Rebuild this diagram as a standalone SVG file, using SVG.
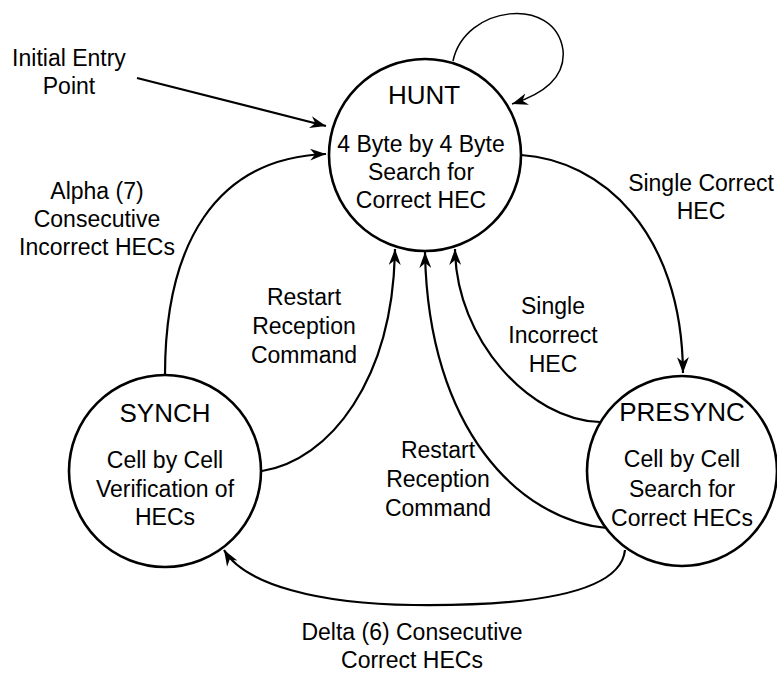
<svg xmlns="http://www.w3.org/2000/svg" width="777" height="673" viewBox="0 0 777 673">
<style>
text{font-family:"Liberation Sans",Arial,Helvetica,sans-serif;fill:#000;text-anchor:middle}
.t{font-size:26px}
.b{font-size:23px}
.node{fill:#fff;stroke:#000;stroke-width:2.6}
.c{fill:none;stroke:#000;stroke-width:2.2}
.thin{fill:none;stroke:#000;stroke-width:1.5}
</style>
<defs>
<marker id="ah" markerUnits="userSpaceOnUse" markerWidth="18" markerHeight="12" refX="16" refY="6" orient="auto">
<path d="M0,0 L16,6 L0,12 L5,6 z" fill="#000"/>
</marker>
</defs>
<g id="connectors">
<path class="c" d="M137,78 L326,126" marker-end="url(#ah)"/>
<path class="thin" d="M453,61 C465,5 555,-5 563,50 C566,80 540,95 512,104" marker-end="url(#ah)"/>
<path class="c" d="M165,375 C165,245 215,158 326,154" marker-end="url(#ah)"/>
<path class="c" d="M521,155 C600,160 682,230 683,373" marker-end="url(#ah)"/>
<path class="c" d="M600,422 C530,420 456,340 455,249" marker-end="url(#ah)"/>
<path class="c" d="M607,528 C520,520 428,430 425,252" marker-end="url(#ah)"/>
<path class="c" d="M262,471 C330,460 393,380 395,249" marker-end="url(#ah)"/>
<path class="c" d="M625,550 C620,600 500,606 413,605 C320,604 245,585 224,550" marker-end="url(#ah)"/>
</g>
<g id="hunt">
<circle class="node" cx="425" cy="155" r="96"/>
<text class="t" x="424" y="104">HUNT</text>
<text class="b" x="421" y="152">4 Byte by 4 Byte</text>
<text class="b" x="421" y="180">Search for</text>
<text class="b" x="421" y="208">Correct HEC</text>
</g>
<g id="synch">
<circle class="node" cx="165" cy="471" r="96"/>
<text class="t" x="165" y="422">SYNCH</text>
<text class="b" x="165" y="468">Cell by Cell</text>
<text class="b" x="165" y="497">Verification of</text>
<text class="b" x="165" y="525">HECs</text>
</g>
<g id="presync">
<circle class="node" cx="682" cy="471" r="95"/>
<text class="t" x="682" y="421">PRESYNC</text>
<text class="b" x="682" y="467">Cell by Cell</text>
<text class="b" x="682" y="497">Search for</text>
<text class="b" x="682" y="526">Correct HECs</text>
</g>
<g id="labels">
<text class="b" x="69" y="66">Initial Entry</text>
<text class="b" x="69" y="94">Point</text>
<text class="b" x="97" y="199">Alpha (7)</text>
<text class="b" x="97" y="227">Consecutive</text>
<text class="b" x="97" y="255">Incorrect HECs</text>
<text class="b" x="304" y="305">Restart</text>
<text class="b" x="304" y="334">Reception</text>
<text class="b" x="304" y="363">Command</text>
<text class="b" x="701" y="191">Single Correct</text>
<text class="b" x="701" y="219">HEC</text>
<text class="b" x="553" y="314">Single</text>
<text class="b" x="553" y="343">Incorrect</text>
<text class="b" x="553" y="372">HEC</text>
<text class="b" x="438" y="458">Restart</text>
<text class="b" x="438" y="487">Reception</text>
<text class="b" x="438" y="516">Command</text>
<text class="b" x="412" y="640">Delta (6) Consecutive</text>
<text class="b" x="412" y="668">Correct HECs</text>
</g>
</svg>
